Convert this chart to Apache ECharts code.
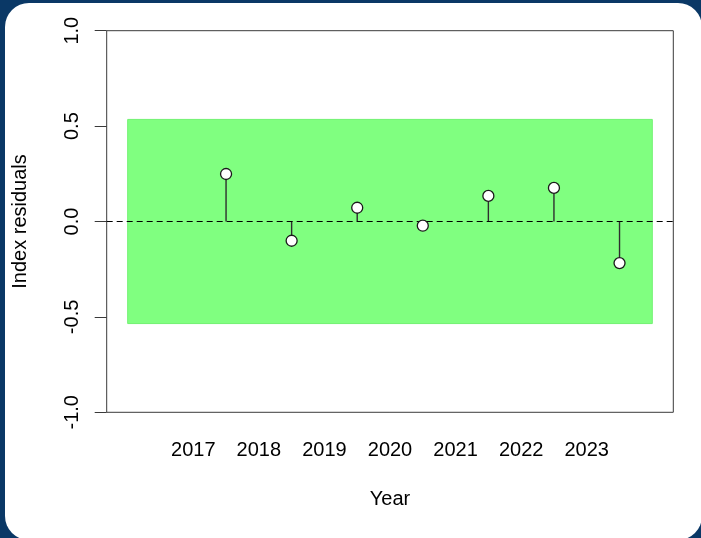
<!DOCTYPE html>
<html>
<head>
<meta charset="utf-8">
<script src="https://cdn.jsdelivr.net/npm/echarts@6/dist/echarts.min.js"></script>
<style>
  html, body { margin: 0; padding: 0; width: 701px; height: 538px; overflow: hidden; background: #0a3866; }
  #panel { position: absolute; left: 5px; top: 3px; width: 697px; height: 537px; background: #ffffff; border-radius: 24px; }
  #chart { position: absolute; left: 0; top: 0; width: 701px; height: 538px; }
</style>
</head>
<body>
<div id="panel"></div>
<div id="chart"></div>
<script>
// Index residuals by year (plotted at mid-year)
const years = [2017.5, 2018.5, 2019.5, 2020.5, 2021.5, 2022.5, 2023.5];
const residuals = [0.249, -0.101, 0.072, -0.022, 0.134, 0.176, -0.218];

// Shaded acceptance band and its year span
const bandLimit = 0.535;
const bandYears = [2016, 2024];

// Axis ticks
const xTicks = [2017, 2018, 2019, 2020, 2021, 2022, 2023];
const yTicks = [-1.0, -0.5, 0.0, 0.5, 1.0];

const font = 'Liberation Sans, Arial, sans-serif';
const fontSize = 20;
const span = bandYears[1] - bandYears[0];
const xMin = bandYears[0] - 0.04 * span;
const xMax = bandYears[1] + 0.04 * span;

const points = years.map((x, i) => [x, residuals[i]]);

const chart = echarts.init(document.getElementById('chart'), null, { renderer: 'canvas' });
chart.setOption({
  backgroundColor: 'transparent',
  animation: false,
  textStyle: { fontFamily: font, color: '#000' },
  grid: {
    left: 106.7, right: 27.7, top: 30.7, bottom: 125.7,
    show: true, borderColor: '#3a3a3a', borderWidth: 1, backgroundColor: '#ffffff'
  },
  xAxis: {
    type: 'value', min: xMin, max: xMax,
    name: 'Year', nameLocation: 'middle', nameGap: 77,
    nameTextStyle: { fontSize: fontSize, color: '#000', fontFamily: font },
    axisLine: { show: false },
    splitLine: { show: false },
    axisTick: { show: true, length: 12, inside: false, customValues: xTicks, lineStyle: { color: '#3a3a3a', width: 1 } },
    axisLabel: { customValues: xTicks, margin: 28, fontSize: fontSize, color: '#000', fontFamily: font, formatter: v => String(Math.round(v)) }
  },
  yAxis: {
    type: 'value', min: -1, max: 1,
    name: 'Index residuals', nameLocation: 'middle', nameRotate: 90, nameGap: 76,
    nameTextStyle: { fontSize: fontSize, color: '#000', fontFamily: font },
    axisLine: { show: false },
    splitLine: { show: false },
    axisTick: { show: true, length: 12, inside: false, customValues: yTicks, lineStyle: { color: '#3a3a3a', width: 1 } },
    axisLabel: { customValues: yTicks, rotate: 90, margin: 24, fontSize: fontSize, color: '#000', fontFamily: font,
      formatter: v => Number(v).toFixed(1) }
  },
  series: [
    {
      // stems from zero to each residual
      type: 'bar',
      data: points,
      barWidth: 1.4,
      itemStyle: { color: '#2e2e2e' },
      z: 3,
      markArea: {
        silent: true,
        itemStyle: { color: '#80ff80', borderColor: '#72f272', borderWidth: 1 },
        data: [[{ coord: [bandYears[0], -bandLimit] }, { coord: [bandYears[1], bandLimit] }]]
      },
      markLine: {
        silent: true,
        symbol: 'none',
        label: { show: false },
        lineStyle: { color: '#000', type: [6, 4], width: 1 },
        data: [{ yAxis: 0 }]
      }
    },
    {
      type: 'scatter',
      data: points,
      symbol: 'circle',
      symbolSize: 11,
      itemStyle: { color: '#ffffff', borderColor: '#1a1a1a', borderWidth: 1.3, opacity: 1 },
      z: 5
    }
  ]
});
</script>
</body>
</html>
